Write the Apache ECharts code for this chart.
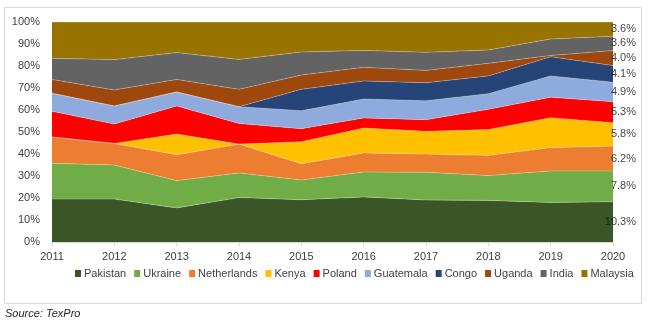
<!DOCTYPE html>
<html><head><meta charset="utf-8">
<script src="https://cdn.jsdelivr.net/npm/echarts@6/dist/echarts.min.js"></script>
<style>html,body{margin:0;padding:0;background:#fff}#c{width:650px;height:332px}</style>
</head><body><div id="c"></div>
<script>
const years = ['2011','2012','2013','2014','2015','2016','2017','2018','2019','2020'];
const pakistan    = [19.5,19.5,15.5,20.2,19.2,20.5,19.1,18.9,18.0,18.3];
const ukraine     = [16.3,15.5,12.4,11.2, 9.0,11.3,12.6,11.3,14.3,14.0];
const netherlands = [11.9, 9.8,11.8,13.1, 7.4, 8.7, 8.3, 9.2,10.6,11.3];
const kenya       = [ 0.0, 0.0, 9.4, 0.0,10.0,11.3,10.3,11.7,13.6,10.6];
const poland      = [11.7, 8.8,12.7, 9.4, 5.9, 4.6, 5.3, 9.2, 9.3, 9.6];
const guatemala   = [ 8.2, 8.2, 6.4, 7.6, 8.2, 8.6, 8.6, 7.1, 9.7, 8.8];
const congo       = [ 0.0, 0.0, 0.0, 0.0, 9.7, 8.2, 8.2, 8.1, 8.7, 7.6];
const uganda      = [ 6.3, 7.3, 5.7, 7.9, 6.5, 6.2, 5.6, 5.7, 0.6, 6.8];
const india       = [ 9.6,13.8,12.2,13.6,10.5, 7.7, 8.2, 6.1, 7.5, 6.5];
const malaysia    = [16.5,17.1,13.9,17.0,13.6,12.9,13.8,12.7, 7.7, 6.5];
const endLabels   = ['10.3%','7.8%','6.2%','5.8%','5.3%','4.9%','4.1%','4.0%','3.6%','3.6%'];
const yTicks = [0,10,20,30,40,50,60,70,80,90,100];

const names = ['Pakistan','Ukraine','Netherlands','Kenya','Poland','Guatemala','Congo','Uganda','India','Malaysia'];
const values = [pakistan,ukraine,netherlands,kenya,poland,guatemala,congo,uganda,india,malaysia];
const colors = ['#3a5526','#70ad47','#ed7d31','#ffc000','#ff0000','#8faadc','#264478','#9e480e','#636363','#997300'];

const series = names.map((n,i)=>({
  name:n, type:'line', stack:'total', symbol:'none', smooth:false,
  lineStyle:{width:0.6,color:'rgba(255,255,255,0.45)'},
  areaStyle:{color:colors[i],opacity:1},
  itemStyle:{color:colors[i]},
  emphasis:{disabled:true},
  data:values[i]
}));
const last = years.length-1;
let cum = 0;
const labelData = values.map((v,i)=>{ const mid = cum + v[last]/2; cum += v[last]; return {value:[years[last], mid], label:{formatter:endLabels[i]}}; });
series.push({
  type:'scatter', symbolSize:0.1, silent:true, z:10, data:labelData,
  label:{show:true, position:'inside', align:'right', offset:[23,0], color:'#111', fontSize:11}
});

const chart = echarts.init(document.getElementById('c'), null, {renderer:'canvas'});
chart.setOption({
  animation:false,
  textStyle:{fontFamily:'Liberation Sans'},
  grid:{left:52,right:37,top:22,bottom:90,containLabel:false},
  xAxis:{type:'category',data:years,boundaryGap:false,
    axisLine:{lineStyle:{color:'#d9d9d9'}},
    axisTick:{show:true,length:4,lineStyle:{color:'#d9d9d9'}},
    axisLabel:{color:'#404040',fontSize:11,margin:9}},
  yAxis:{type:'value',min:0,max:100,interval:10,
    splitLine:{show:false},axisLine:{show:false},axisTick:{show:false},
    axisLabel:{color:'#404040',fontSize:11,margin:12,formatter:v=>yTicks.includes(v)?v+'%':''}},
  legend:{data:names,top:268,left:75,padding:0,itemWidth:6,itemHeight:7,itemGap:8,icon:'rect',
    textStyle:{color:'#404040',fontSize:11,padding:[0,0,0,-2]}},
  title:{text:'Source: TexPro',left:5,top:308,padding:0,textStyle:{fontSize:11,fontStyle:'italic',fontWeight:'normal',color:'#262626'}},
  graphic:[{type:'rect',shape:{x:4.5,y:7.5,width:637,height:296},style:{fill:'none',stroke:'#d9d9d9',lineWidth:1},silent:true}],
  series:series
});
</script></body></html>
